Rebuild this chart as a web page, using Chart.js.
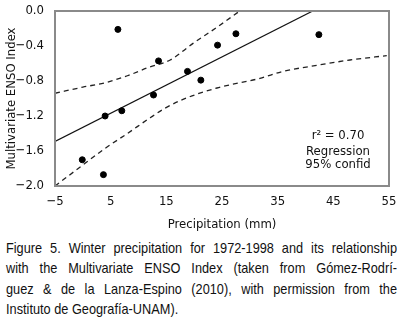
<!DOCTYPE html>
<html>
<head>
<meta charset="utf-8">
<script src="https://cdn.jsdelivr.net/npm/chart.js"></script>
<style>
body { margin: 0; background: #fff; }
#wrap { position: relative; width: 401px; height: 325px; overflow: hidden; }
#caption {
    position: absolute; left: 6px; top: 238px; width: 460px;
    transform: scaleX(0.85); transform-origin: 0 0;
    font-family: 'Liberation Sans', Arial, sans-serif;
    font-size: 15px; line-height: 20.4px; color: #111;
}
#caption div { text-align: justify; text-align-last: justify; white-space: nowrap; }
#caption div.last { text-align-last: left; }
</style>
</head>
<body>
<div id="wrap">
<canvas id="chart" width="401" height="236"></canvas>
<div id="caption">
<div>Figure 5. Winter precipitation for 1972-1998 and its relationship</div>
<div>with the Multivariate ENSO Index (taken from Gómez-Rodrí-</div>
<div>guez &amp; de la Lanza-Espino (2010), with permission from the</div>
<div class="last">Instituto de Geografía-UNAM).</div>
</div>
</div>
<script>
// observed points
var precip = [6.3, 13.6, 18.8, 21.2, 12.7, 7.0, 4.0, -0.1, 3.7, 24.2, 27.5, 42.4];
var mei = [-0.21, -0.57, -0.69, -0.79, -0.96, -1.14, -1.20, -1.70, -1.87, -0.39, -0.26, -0.27];
// regression line
var regX = [-5, 41.3];
var regY = [-1.49, 0.0];
// 95% confidence band
var upperX = [-5, 0, 4, 8, 12, 15.7, 19.8, 24, 28.2];
var upperY = [-0.94, -0.87, -0.82, -0.74, -0.64, -0.56, -0.37, -0.19, 0.0];
var lowerX = [-5, 0, 4, 8, 12.1, 14.8, 18, 24.1, 31.8, 36, 42.1, 48, 54.6];
var lowerY = [-2.0, -1.76, -1.57, -1.40, -1.22, -1.11, -1.01, -0.88, -0.77, -0.69, -0.62, -0.56, -0.51];
// axes
var xTicks = [-5, 5, 15, 25, 35, 45, 55];
var yTicks = [-2.0, -1.6, -1.2, -0.8, -0.4, 0.0];
var legendLines = ['r\u00b2 = 0.70', 'Regression', '95% confid'];

var narrow = "'DejaVu Sans Condensed', sans-serif";

function pairs(xs, ys) {
    var out = [];
    for (var i = 0; i < xs.length; i++) {
        out.push({x: xs[i], y: ys[i]});
    }
    return out;
}

function fmt(v, d) {
    return v.toFixed(d).replace('-', '\u2212');
}

var framePlugin = {
    id: 'frame',
    afterDatasetsDraw: function (chart) {
        var a = chart.chartArea;
        var ctx = chart.ctx;
        ctx.save();
        ctx.strokeStyle = '#8a8a8a';
        ctx.lineWidth = 2;
        ctx.strokeRect(a.left, a.top, a.right - a.left, a.bottom - a.top);
        // legend text
        ctx.fillStyle = '#111';
        ctx.font = '13px ' + narrow;
        ctx.textAlign = 'center';
        ctx.textBaseline = 'middle';
        var cx = a.right - 51;
        ctx.fillText(legendLines[0], cx, a.bottom - 50);
        ctx.fillText(legendLines[1], cx, a.bottom - 34);
        ctx.fillText(legendLines[2], cx, a.bottom - 21);
        ctx.restore();
    }
};

var dashed = {
    type: 'line', borderColor: '#222', borderWidth: 1.3, borderDash: [5, 4],
    pointRadius: 0, fill: false, tension: 0.3, cubicInterpolationMode: 'monotone'
};

new Chart(document.getElementById('chart').getContext('2d'), {
    type: 'scatter',
    data: {
        datasets: [
            {
                data: pairs(precip, mei),
                backgroundColor: '#000', borderColor: '#000',
                pointRadius: 3, pointHoverRadius: 3
            },
            {
                type: 'line', data: pairs(regX, regY),
                borderColor: '#111', borderWidth: 1.2, pointRadius: 0, fill: false
            },
            Object.assign({data: pairs(upperX, upperY)}, dashed),
            Object.assign({data: pairs(lowerX, lowerY)}, dashed)
        ]
    },
    options: {
        responsive: false,
        animation: false,
        layout: {padding: {top: 11, right: 12, left: 0, bottom: 0}},
        plugins: {legend: {display: false}, tooltip: {enabled: false}},
        scales: {
            x: {
                type: 'linear', min: -5, max: 55,
                grid: {display: false},
                border: {display: false},
                afterBuildTicks: function (s) {
                    s.ticks = xTicks.map(function (v) { return {value: v}; });
                },
                afterFit: function (s) { s.height = 50; },
                ticks: {
                    color: '#111', padding: 0, maxRotation: 0,
                    font: {family: narrow, size: 13},
                    callback: function (v) { return fmt(v, 0); }
                },
                title: {
                    display: true, text: 'Precipitation (mm)', color: '#111',
                    font: {family: narrow, size: 13}, padding: {top: 11}
                }
            },
            y: {
                type: 'linear', min: -2.0, max: 0.0,
                grid: {display: false},
                border: {display: false},
                afterBuildTicks: function (s) {
                    s.ticks = yTicks.map(function (v) { return {value: v}; });
                },
                afterFit: function (s) { s.width = 55; },
                ticks: {
                    color: '#111', padding: 3,
                    font: {family: narrow, size: 13},
                    callback: function (v) { return fmt(v, 1); }
                },
                title: {
                    display: true, text: 'Multivariate ENSO Index', color: '#111',
                    font: {family: narrow, size: 13}, padding: {bottom: 5}
                }
            }
        }
    },
    plugins: [framePlugin]
});
</script>
</body>
</html>
